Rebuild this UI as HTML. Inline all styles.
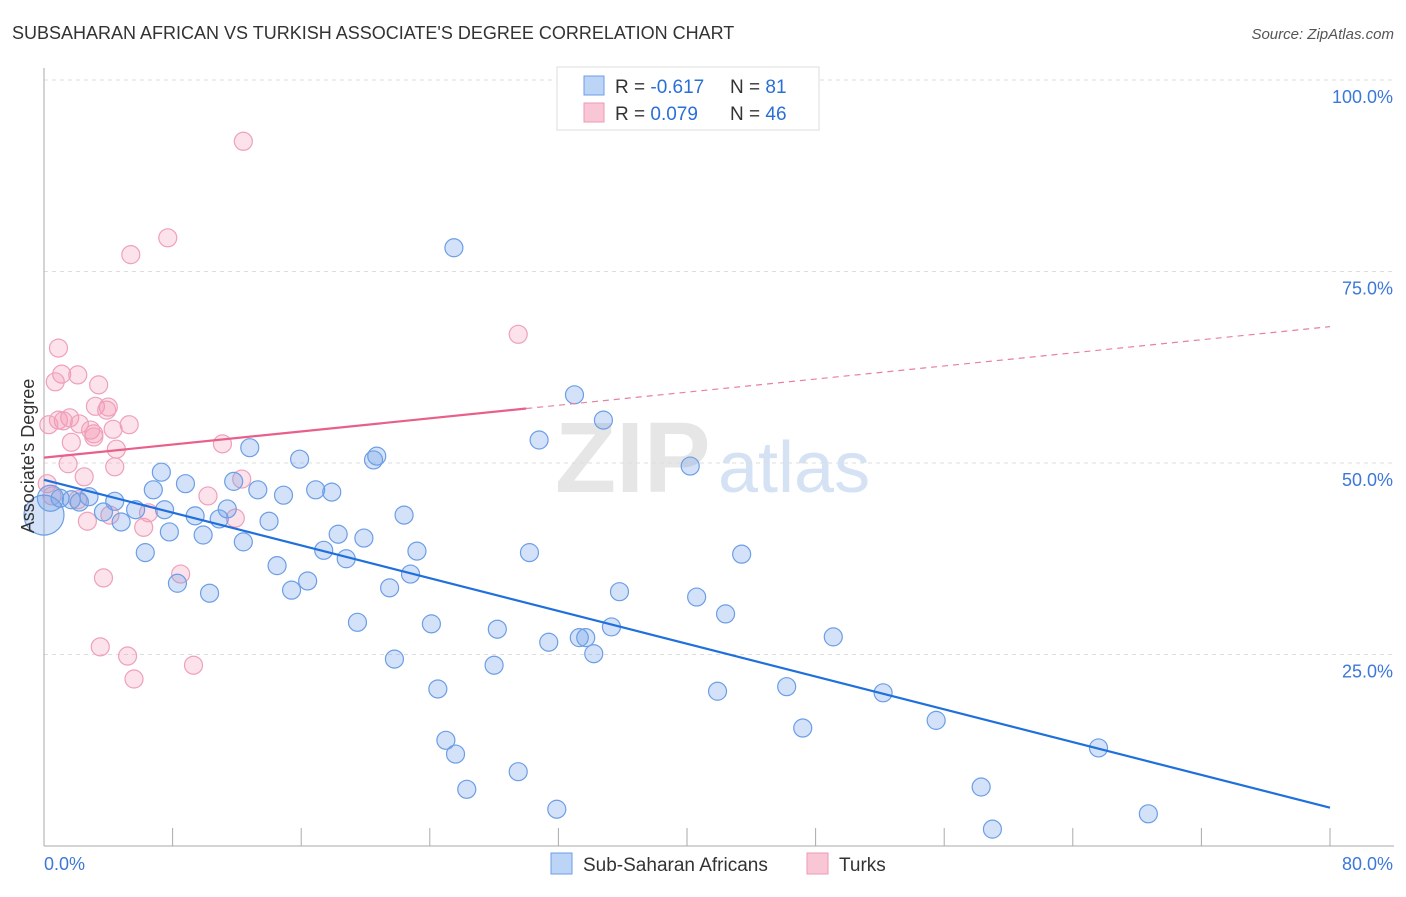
<!DOCTYPE html>
<html><head><meta charset="utf-8"><style>
body{margin:0;background:#fff;font-family:"Liberation Sans",sans-serif}
svg text{font-family:"Liberation Sans",sans-serif}
</style></head><body>
<svg id="c" width="1406" height="892" xmlns="http://www.w3.org/2000/svg">
<text x="12" y="39" font-size="18" fill="#333">SUBSAHARAN AFRICAN VS TURKISH ASSOCIATE'S DEGREE CORRELATION CHART</text>
<text x="1394" y="39" font-size="15" fill="#555" font-style="italic" text-anchor="end">Source: ZipAtlas.com</text>
<text x="555" y="492" font-size="100" fill="#e6e6e6" font-family="Liberation Serif" font-weight="bold">ZIP</text>
<text x="718" y="492" font-size="72" fill="#d4e2f4">atlas</text>
<g id="grid"></g>
<g id="axes"></g>
<g id="pts"></g>
<g id="lines"></g>
<text transform="translate(34,456) rotate(-90)" font-size="18" fill="#333" text-anchor="middle">Associate's Degree</text>
<g>
<rect x="557" y="67" width="262" height="63" fill="#fff" stroke="#ddd"/>
<rect x="584" y="76" width="20" height="19" fill="#bcd4f6" stroke="#6c9ee6"/>
<rect x="584" y="103" width="20" height="19" fill="#f9c6d6" stroke="#ee9ab5"/>
<text x="615" y="93" font-size="19" fill="#333">R = <tspan fill="#2a6fd6">-0.617</tspan><tspan x="730">N = </tspan><tspan fill="#2a6fd6"> 81</tspan></text>
<text x="615" y="120" font-size="19" fill="#333">R = <tspan fill="#2a6fd6"> 0.079</tspan><tspan x="730">N = </tspan><tspan fill="#2a6fd6"> 46</tspan></text>
</g>
<g>
<rect x="551" y="853" width="21" height="21" fill="#bcd4f6" stroke="#6c9ee6"/>
<text x="583" y="871" font-size="19" fill="#333">Sub-Saharan Africans</text>
<rect x="807" y="853" width="21" height="21" fill="#f9c6d6" stroke="#ee9ab5"/>
<text x="839" y="871" font-size="19" fill="#333">Turks</text>
</g>
</svg>
<script>
const xTicks=[0,8,16,24,32,40,48,56,64,72,80];
const yTicks=[25,50,75,100];
const yTickLabels=["25.0%","50.0%","75.0%","100.0%"];
const xEndLabels=["0.0%","80.0%"];
const blueX=[25.5,33.0,34.8,30.8,12.8,20.7,15.9,20.5,40.2,7.3,11.8,8.8,6.8,13.3,16.9,17.9,14.9,4.4,2.8,1.0,1.7,2.2,5.7,7.5,3.7,11.4,9.4,10.9,22.4,4.8,14.0,7.8,9.9,18.3,19.9,12.4,17.4,23.2,6.3,30.2,43.4,18.8,14.5,22.8,16.4,8.3,15.4,21.5,10.3,35.8,40.6,42.4,19.5,24.1,35.3,28.2,49.1,31.4,33.3,33.7,34.2,21.8,28.0,24.5,41.9,46.2,52.2,55.5,47.2,25.0,25.6,65.6,29.5,26.3,58.3,31.9,68.7,59.0,0.0,0.4];
const blueY=[78.1,58.9,55.6,53.0,52.0,50.9,50.5,50.4,49.6,48.8,47.6,47.3,46.5,46.5,46.5,46.2,45.8,45.0,45.6,45.4,45.2,44.9,43.9,43.9,43.6,44.0,43.1,42.7,43.2,42.3,42.4,41.0,40.6,40.7,40.2,39.7,38.6,38.5,38.3,38.3,38.1,37.5,36.6,35.5,34.6,34.3,33.4,33.7,33.0,33.2,32.5,30.3,29.2,29.0,28.6,28.3,27.3,26.6,27.2,27.2,25.1,24.4,23.6,20.5,20.2,20.8,20.0,16.4,15.4,13.8,12.0,12.8,9.7,7.4,7.7,4.8,4.2,2.2,43.2,45.4];
const blueR=[9,9,9,9,9,9,9,9,9,9,9,9,9,9,9,9,9,9,9,9,9,9,9,9,9,9,9,9,9,9,9,9,9,9,9,9,9,9,9,9,9,9,9,9,9,9,9,9,9,9,9,9,9,9,9,9,9,9,9,9,9,9,9,9,9,9,9,9,9,9,9,9,9,9,9,9,9,9,20,13];
const pinkX=[12.4,7.7,5.4,29.5,0.9,1.1,2.1,0.7,3.4,3.2,4.0,3.9,1.6,0.9,1.2,0.3,2.2,3.1,2.9,5.3,4.3,1.7,3.1,11.1,4.5,1.5,4.4,2.5,12.3,0.2,10.2,2.1,2.7,6.2,6.5,11.9,4.1,3.7,8.5,3.5,5.2,9.3,5.6,0.5];
const pinkY=[92.0,79.4,77.2,66.8,65.0,61.6,61.5,60.6,60.2,57.4,57.3,56.9,55.9,55.6,55.5,55.0,55.1,53.8,54.3,55.0,54.4,52.7,53.4,52.5,51.8,49.9,49.5,48.2,47.9,47.3,45.7,45.2,42.4,41.6,43.5,42.8,43.2,35.0,35.5,26.0,24.8,23.6,21.8,45.7];
const blueTrend=[47.8,5.0];
const pinkTrend=[50.7,67.8];
const pinkSolidEnd=30;
const X=v=>44+v*16.075, Y=v=>846-v*7.66;
const NS="http://www.w3.org/2000/svg";
function mk(p,t,a){const e=document.createElementNS(NS,t);for(const k in a)e.setAttribute(k,a[k]);document.getElementById(p).appendChild(e);return e;}
yTicks.forEach((t,i)=>{
 const g=mk('grid','line',{x1:44,x2:1394,y1:Y(t),y2:Y(t),stroke:'#ddd','stroke-dasharray':'4,4'});
 
 
 const l=mk('grid','text',{x:1393,y:Y(t)+23,'font-size':18,fill:'#3b78d8','text-anchor':'end'});
 l.textContent=yTickLabels[i];
 
 
});
const ax=mk('axes','line',{x1:44,x2:44,y1:68,y2:846,stroke:'#aaa'});


const bx=mk('axes','line',{x1:44,x2:1394,y1:846,y2:846,stroke:'#aaa'});


xTicks.forEach(t=>{
 const k=mk('axes','line',{x1:X(t),x2:X(t),y1:828,y2:846,stroke:'#aaa'});
 
 
});
const l0=mk('axes','text',{x:44,y:870,'font-size':18,fill:'#3b78d8'});l0.textContent=xEndLabels[0];


const l1=mk('axes','text',{x:1393,y:870,'font-size':18,fill:'#3b78d8','text-anchor':'end'});l1.textContent=xEndLabels[1];


pinkX.forEach((v,i)=>{
 const c=mk('pts','circle',{cx:X(v),cy:Y(pinkY[i]),r:9,fill:'rgba(244,150,180,0.28)',stroke:'#efa0ba','stroke-width':1.2});
 
 
});
blueX.forEach((v,i)=>{
 const c=mk('pts','circle',{cx:X(v),cy:Y(blueY[i]),r:blueR[i],fill:'rgba(110,160,232,0.3)',stroke:'#6c9ee6','stroke-width':1.2});
 
 
});
const bt=mk('lines','line',{x1:X(0),y1:Y(blueTrend[0]),x2:X(80),y2:Y(blueTrend[1]),stroke:'#1f6fdc','stroke-width':2.2});


const py=x=>pinkTrend[0]+(pinkTrend[1]-pinkTrend[0])*x/80;
const ps=mk('lines','line',{x1:X(0),y1:Y(py(0)),x2:X(pinkSolidEnd),y2:Y(py(pinkSolidEnd)),stroke:'#e8608a','stroke-width':2.2});


const pd=mk('lines','line',{x1:X(pinkSolidEnd),y1:Y(py(pinkSolidEnd)),x2:X(80),y2:Y(py(80)),stroke:'#e8809f','stroke-width':1.2,'stroke-dasharray':'6,5'});


</script>
</body></html>
